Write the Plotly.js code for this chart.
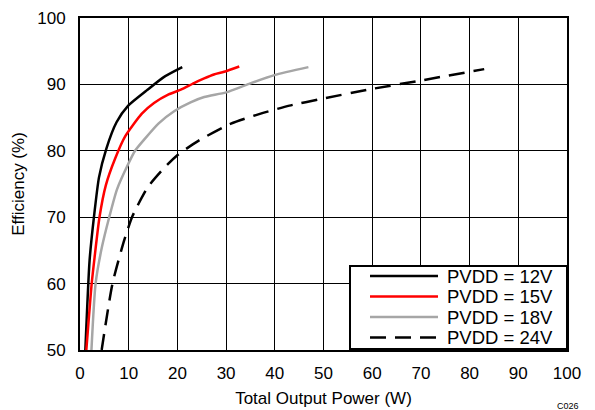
<!DOCTYPE html>
<html><head><meta charset="utf-8">
<script src="https://cdn.plot.ly/plotly-3.0.1.min.js"></script>
<style>html,body{margin:0;padding:0;background:#fff}#chart{width:595px;height:410px}</style>
</head><body><div id="chart"></div>
<script>
const seriesNames = ["PVDD = 12V", "PVDD = 15V", "PVDD = 18V", "PVDD = 24V"];
const p12x = [1.1, 1.97, 2.86, 3.9, 5.4, 7.5, 9.9, 13.7, 17.2, 21.0];
const p12y = [50, 63.5, 70, 76.0, 80.3, 84.3, 86.8, 89.1, 91.1, 92.6];
const p15x = [1.3, 2.4, 3.0, 4.0, 5.3, 7.2, 9.3, 12.7, 15.2, 18.2, 20.7, 23.4, 25.5, 27.5, 29.6, 32.7];
const p15y = [50, 60, 64.0, 70, 74.8, 78.8, 82.2, 85.6, 87.2, 88.5, 89.2, 90.2, 90.9, 91.5, 91.9, 92.7];
const p18x = [2.35, 3.2, 4.5, 6.0, 7.6, 9.9, 11.3, 13.3, 16.1, 19.4, 22.7, 25.5, 30.0, 34.4, 39.9, 46.9];
const p18y = [50, 60, 65.5, 70, 74.2, 78.0, 80.0, 81.8, 84.1, 86.0, 87.3, 88.1, 88.8, 90.0, 91.4, 92.6];
const p24x = [4.45, 6.67, 9.07, 10.8, 13.9, 17.4, 20.1, 24.3, 31.0, 37.1, 43.0, 49.5, 59.8, 70.1, 83.0];
const p24y = [50, 60, 66.5, 70.2, 74.5, 77.5, 79.4, 81.5, 84.1, 85.6, 86.8, 87.8, 89.3, 90.6, 92.3];
const xTicks = [0, 10, 20, 30, 40, 50, 60, 70, 80, 90, 100];
const yTicks = [50, 60, 70, 80, 90, 100];
const xTitle = "Total Output Power (W)";
const yTitle = "Efficiency (%)";
const figCode = "C026";

const colors = ["#000000", "#ff0000", "#a6a6a6", "#000000"];
const dashes = ["solid", "solid", "solid", "16px,9px"];
const xs = [p12x, p15x, p18x, p24x];
const ys = [p12y, p15y, p18y, p24y];

const traces = xs.map((x, i) => ({
  x: x, y: ys[i], name: seriesNames[i], type: "scatter", mode: "lines",
  line: {color: colors[i], width: 2.5, dash: dashes[i], shape: "spline", smoothing: 0.6},
  showlegend: false, hoverinfo: "skip"
}));

const fam = "Liberation Sans, Arial, sans-serif";
const font = {family: fam, size: 17, color: "#000"};
const legFont = {family: fam, size: 18.5, color: "#000"};

// custom legend (paper coords)
const L = {x0: 350, x1: 567, y0: 266, y1: 349, lineX0: 370, lineX1: 438, textX: 445, rows: [276, 296.5, 317, 337.5]};
const W = 595, H = 410, ml = 80, mr = 28, mt = 18, mb = 60;
const pw = W - ml - mr, ph = H - mt - mb;
const px = v => (v - ml) / pw;
const py = v => 1 - (v - mt) / ph;

const shapes = [{type: "rect", xref: "paper", yref: "paper", x0: px(L.x0), x1: px(L.x1), y0: py(L.y1), y1: py(L.y0),
  line: {color: "#000", width: 2}, fillcolor: "#fff", layer: "above"}];
const annotations = [];
seriesNames.forEach((n, i) => {
  shapes.push({type: "line", xref: "paper", yref: "paper", x0: px(L.lineX0), x1: px(L.lineX1), y0: py(L.rows[i]), y1: py(L.rows[i]),
    line: {color: colors[i], width: 2.5, dash: dashes[i]}, layer: "above"});
  annotations.push({xref: "paper", yref: "paper", x: px(L.textX), y: py(L.rows[i]), xanchor: "left", yanchor: "middle",
    text: n, showarrow: false, font: legFont});
});
annotations.push({xref: "paper", yref: "paper", x: px(581), y: py(406), xanchor: "right", yanchor: "middle",
  text: figCode, showarrow: false, font: {family: fam, size: 9, color: "#000"}});

const layout = {
  width: W, height: H, margin: {l: ml, r: mr, t: mt, b: mb}, paper_bgcolor: "#fff", plot_bgcolor: "#fff",
  font: font, showlegend: false,
  xaxis: {range: [0, 100], tickvals: xTicks, ticktext: xTicks.map(String), showgrid: true, gridcolor: "#000", gridwidth: 1,
    zeroline: false, showline: true, linecolor: "#000", linewidth: 2, mirror: true, ticks: "outside", ticklen: 7,
    tickcolor: "rgba(0,0,0,0)", tickfont: font, title: {text: xTitle, font: font, standoff: 10}, automargin: false},
  yaxis: {range: [50, 100], tickvals: yTicks, ticktext: yTicks.map(String), showgrid: true, gridcolor: "#000", gridwidth: 1,
    zeroline: false, showline: true, linecolor: "#000", linewidth: 2, mirror: true, ticks: "outside", ticklen: 9,
    tickcolor: "rgba(0,0,0,0)", tickfont: font, title: {text: yTitle, font: font, standoff: 8}, automargin: false},
  shapes: shapes, annotations: annotations
};
Plotly.newPlot("chart", traces, layout, {staticPlot: true, displayModeBar: false});
</script></body></html>
